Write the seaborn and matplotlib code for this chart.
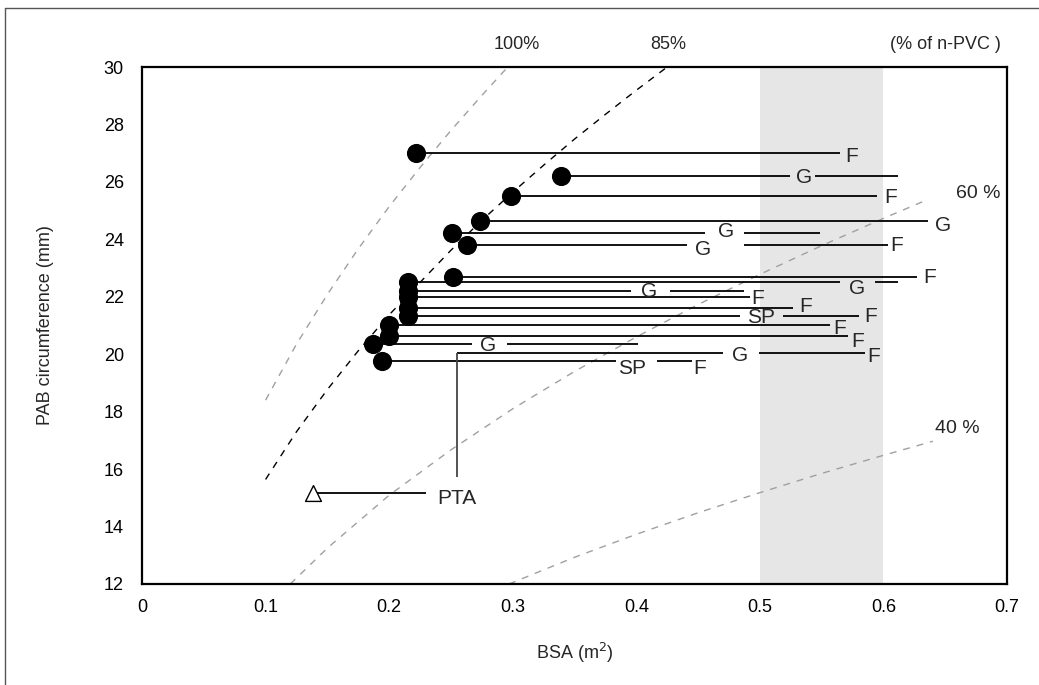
import matplotlib
matplotlib.use("Agg")
import matplotlib.pyplot as plt
from matplotlib.lines import Line2D
import seaborn as sns
import pandas as pd

# ---------------- data ----------------
circ_bsa = [0.222, 0.339, 0.299, 0.2735, 0.251, 0.263, 0.252, 0.215, 0.215,
            0.215, 0.215, 0.215, 0.200, 0.200, 0.187, 0.194]
circ_pab = [27.00, 26.22, 25.50, 24.64, 24.23, 23.80, 22.70, 22.50, 22.20,
            21.99, 21.62, 21.32, 21.02, 20.63, 20.34, 19.77]

pta_bsa = [0.1387]
pta_pab = [15.16]

seg_y = [27.00, 26.22, 26.22, 25.50, 24.64, 24.23, 24.23, 23.80, 23.80, 22.70,
         22.50, 22.50, 22.20, 22.20, 21.99, 21.62, 21.32, 21.32, 21.02, 20.63,
         20.34, 20.34, 20.05, 20.05, 19.77, 19.77, 15.16]
seg_x0 = [0.222, 0.339, 0.545, 0.299, 0.2735, 0.251, 0.487, 0.263, 0.487, 0.252,
          0.215, 0.593, 0.215, 0.427, 0.215, 0.215, 0.215, 0.5185, 0.200, 0.200,
          0.187, 0.295, 0.2546, 0.4996, 0.194, 0.4165, 0.1387]
seg_x1 = [0.565, 0.524, 0.612, 0.5945, 0.6357, 0.456, 0.549, 0.441, 0.604, 0.627,
          0.565, 0.6116, 0.396, 0.487, 0.492, 0.527, 0.484, 0.5805, 0.557, 0.5716,
          0.2668, 0.4016, 0.4704, 0.5851, 0.3836, 0.4448, 0.2298]

pta_link_x = 0.2546
pta_link_y = [15.73, 20.05]

lab_text = ["F", "G", "F", "G", "G", "G", "F", "F", "G", "G", "F", "F", "SP", "F",
            "F", "F", "G", "G", "F", "SP", "F", "PTA"]
lab_x = [0.5743, 0.5357, 0.6059, 0.6480, 0.4726, 0.4542, 0.6107, 0.6371, 0.5784,
         0.4105, 0.4979, 0.5371, 0.5007, 0.5899, 0.5643, 0.5792, 0.2798, 0.4839,
         0.5918, 0.3963, 0.4516, 0.2546]
lab_y = [26.88, 26.16, 25.44, 24.47, 24.27, 23.66, 23.77, 22.68, 22.29, 22.20,
         21.95, 21.65, 21.28, 21.31, 20.90, 20.46, 20.29, 19.95, 19.91, 19.51,
         19.51, 14.98]

# n-PVC reference curves
pvc100_x = [0.100, 0.125, 0.150, 0.175, 0.200, 0.225, 0.250, 0.275, 0.296]
pvc100_y = [18.40, 20.35, 22.08, 23.67, 25.14, 26.50, 27.79, 29.01, 30.00]
pvc85_x = [0.100, 0.125, 0.150, 0.175, 0.200, 0.225, 0.250, 0.275, 0.300, 0.325,
           0.350, 0.375, 0.400, 0.425]
pvc85_y = [15.64, 17.30, 18.77, 20.12, 21.37, 22.50, 23.62, 24.66, 25.64, 26.58,
           27.49, 28.35, 29.19, 30.00]
pvc60_x = [0.120, 0.150, 0.200, 0.250, 0.300, 0.350, 0.400, 0.450, 0.500, 0.550,
           0.600, 0.635]
pvc60_y = [12.00, 13.25, 15.09, 16.67, 18.10, 19.40, 20.60, 21.73, 22.78, 23.78,
           24.73, 25.37]
pvc40_x = [0.297, 0.350, 0.400, 0.450, 0.500, 0.550, 0.600, 0.640]
pvc40_y = [12.00, 12.93, 13.73, 14.48, 15.18, 15.85, 16.48, 16.97]

x_ticks = [0, 0.1, 0.2, 0.3, 0.4, 0.5, 0.6, 0.7]
x_tick_labels = ["0", "0.1", "0.2", "0.3", "0.4", "0.5", "0.6", "0.7"]
y_ticks = [12, 14, 16, 18, 20, 22, 24, 26, 28, 30]
band = (0.5, 0.6)

# ---------------- figure ----------------
sns.set_style("white")
plt.rcParams["font.family"] = ["Liberation Sans", "DejaVu Sans"]

fig = plt.figure(figsize=(10.39, 6.85), dpi=100)
ax = fig.add_axes([142 / 1039, 1 - 584 / 685, 865 / 1039, 517 / 685])

# figure frame (left and top)
fig.add_artist(Line2D([5 / 1039, 5 / 1039], [0, 1 - 8 / 685], transform=fig.transFigure,
                      color="#555555", lw=1.0))
fig.add_artist(Line2D([5 / 1039, 1], [1 - 8 / 685, 1 - 8 / 685], transform=fig.transFigure,
                      color="#555555", lw=1.0))

ax.axvspan(band[0], band[1], color="#e6e6e6", zorder=0, lw=0)

curves = [
    (pvc100_x, pvc100_y, "#a0a0a0"),
    (pvc85_x, pvc85_y, "black"),
    (pvc60_x, pvc60_y, "#a0a0a0"),
    (pvc40_x, pvc40_y, "#a0a0a0"),
]
for cx, cy, col in curves:
    df = pd.DataFrame({"x": cx, "y": cy})
    sns.lineplot(data=df, x="x", y="y", ax=ax, color=col, lw=1.0, sort=False,
                 dashes=False, zorder=1)
    ax.lines[-1].set_dashes((5, 5))

ax.hlines(seg_y, seg_x0, seg_x1, color="black", lw=1.3, zorder=2)
ax.vlines(pta_link_x, pta_link_y[0], pta_link_y[1], color="#444444", lw=1.3, zorder=2)

sns.scatterplot(x=circ_bsa, y=circ_pab, ax=ax, s=190, color="black",
                edgecolor="black", linewidth=0, zorder=4)
sns.scatterplot(x=pta_bsa, y=pta_pab, ax=ax, marker="^", s=130, color="white",
                edgecolor="black", linewidth=1.0, zorder=4)

for t, x, y in zip(lab_text, lab_x, lab_y):
    ax.text(x, y, t, fontsize=15, ha="center", va="center", zorder=5)

ax.text(0.3035, 30.77, "100%", fontsize=13, ha="center", va="center", clip_on=False)
ax.text(0.4257, 30.77, "85%", fontsize=13, ha="center", va="center", clip_on=False)
ax.text(0.650, 30.77, "(% of n-PVC )", fontsize=13, ha="center", va="center", clip_on=False)
ax.text(0.6765, 25.61, "60 %", fontsize=14, ha="center", va="center", clip_on=False)
ax.text(0.660, 17.43, "40 %", fontsize=14, ha="center", va="center", clip_on=False)

ax.set_xlim(0, 0.7)
ax.set_ylim(12, 30)
ax.set_xticks(x_ticks)
ax.set_xticklabels(x_tick_labels)
ax.set_yticks(y_ticks)
ax.tick_params(direction="in", length=7, width=1, color="black", labelsize=13,
               labelcolor="black")
ax.tick_params(axis="y", pad=13)
ax.tick_params(axis="x", pad=11)
for sp in ax.spines.values():
    sp.set_visible(True)
    sp.set_color("black")
    sp.set_linewidth(1.6)

ax.set_xlabel("BSA (m$^2$)", fontsize=13)
ax.set_ylabel("PAB circumference (mm)", fontsize=13)
ax.xaxis.set_label_coords(0.5, -0.11)
ax.yaxis.set_label_coords(-0.102, 0.5)
ax.grid(False)

fig.savefig("out.png", dpi=100)
